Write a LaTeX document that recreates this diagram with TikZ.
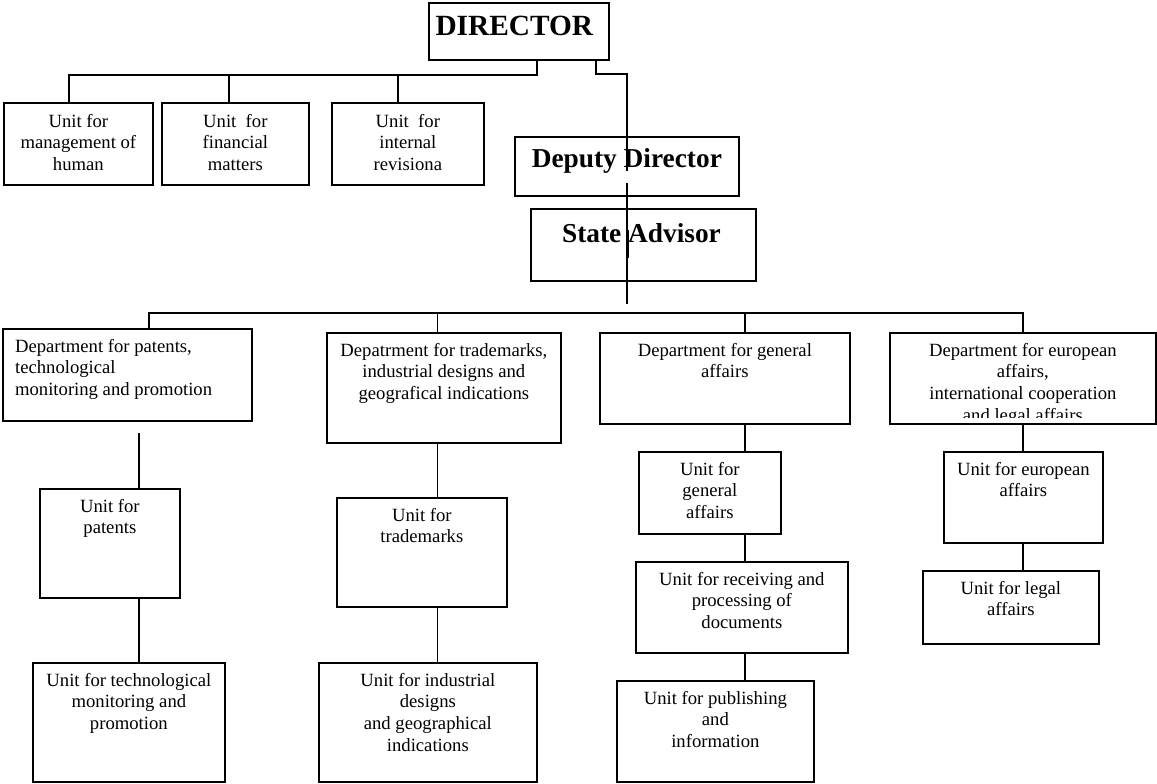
\documentclass[tikz,border=0pt]{standalone}
\usepackage{fontspec}
\setmainfont{Liberation Serif}
\usepackage{tikz}

\tikzset{
  box/.style 2 args={draw, line width=1.3pt, anchor=north west, inner sep=0pt,
    minimum width=#1*0.75pt, minimum height=#2*0.75pt},
  lbl/.style={font=\fontsize{14}{16.2}\selectfont, align=center, inner sep=0pt,
    anchor=north, yshift=-8.2pt},
  head/.style={font=\bfseries\fontsize{20.5}{24}\selectfont, inner sep=0pt, anchor=base},
  link/.style={line width=1pt},
}

\begin{document}
\begin{tikzpicture}[x=0.75pt, y=-0.75pt]
\useasboundingbox (0,0) rectangle (1157,783);

% top
\node[box={180}{57}, label={[head, font=\bfseries\fontsize{22}{26}\selectfont, yshift=-24.75pt, xshift=-3.4pt]north:DIRECTOR}] (dir) at (428,2) {};
\node[box={149}{82}, label={[lbl, yshift=-0.7pt]north:{Unit for\\management of\\human}}] (uhr) at (3,102) {};
\node[box={147}{82}, label={[lbl, yshift=-0.7pt]north:{Unit\ \ for\\financial\\matters}}] (ufin) at (161,102) {};
\node[box={152}{82}, label={[lbl, yshift=-0.7pt]north:{Unit\ \ for\\internal\\revisiona}}] (urev) at (331,102) {};
\node[box={224}{59}, label={[head, yshift=-23.25pt]north:Deputy Director}] (dep) at (514,136) {};
\node[box={225}{72}, label={[head, yshift=-25.5pt, xshift=-1.4pt]north:State Advisor}] (sta) at (530,208) {};

% departments
\node[box={249}{92}, label={[lbl, anchor=north west, align=left, xshift=-84.4pt]north:{Department for patents,\\technological\\monitoring and promotion}}] (d1) at (2,328) {};
\node[box={234}{110}, label={[lbl]north:{Depatrment for trademarks,\\industrial designs and\\geografical indications}}] (d2) at (326,332) {};
\node[box={250}{91}, label={[lbl]north:{Department for general\\affairs}}] (d3) at (599,332) {};
\node[box={266}{91}] (d4) at (889,332) {};
\begin{scope}
  \clip (d4.north west) rectangle (1155,417.5);
  \node[lbl] (t4) at (d4.north) {Department for european\\affairs,\\international cooperation\\and legal affairs};
\end{scope}

% units
\node[box={140}{109}, label={[lbl]north:{Unit for\\patents}}] (upat) at (39,488) {};
\node[box={192}{119}, label={[lbl]north:{Unit for technological\\monitoring and\\promotion}}] (utech) at (32,662) {};
\node[box={170}{109}, label={[lbl]north:{Unit for\\trademarks}}] (utm) at (336,497) {};
\node[box={218}{119}, label={[lbl]north:{Unit for industrial\\designs\\and geographical\\indications}}] (uind) at (318,662) {};
\node[box={142}{82}, label={[lbl]north:{Unit for\\general\\affairs}}] (ugen) at (638,451) {};
\node[box={212}{91}, label={[lbl]north:{Unit for receiving and\\processing of\\documents}}] (urec) at (635,561) {};
\node[box={197}{101}, label={[lbl]north:{Unit for publishing\\and\\information}}] (upub) at (616,680) {};
\node[box={159}{91}, label={[lbl]north:{Unit for european\\affairs}}] (ueu) at (943,451) {};
\node[box={176}{73}, label={[lbl]north:{Unit for legal\\affairs}}] (uleg) at (922,570) {};

% lines from the director
\coordinate (j1) at (537,75);
\coordinate (hr) at (69,75);
\coordinate (fin) at (229,75);
\coordinate (rev) at (398,75);
\draw[link] (dir.south -| j1) -- (j1) -- (hr) -- (hr |- uhr.north);
\draw[link] (fin) -- (fin |- ufin.north);
\draw[link] (rev) -- (rev |- urev.north);

\coordinate (k1) at (596,74);
\coordinate (k2) at (627,74);
\coordinate (k3) at (627,171);
\coordinate (k4) at (627,183);
\coordinate (k5) at (627,304);
\draw[link] (dir.south -| k1) -- (k1) -- (k2) -- (k3);
\draw[link] (k4) -- (k5);
\draw[line width=1.5pt] (628,230) -- (628,258);

% department bar
\coordinate (b1) at (149,313);
\coordinate (b2) at (437.5,313);
\coordinate (b3) at (745,313);
\coordinate (b4) at (1023,313);
\draw[link] (b1 |- d1.north) -- (b1) -- (b4) -- (b4 |- d4.north);
\draw[link] (b2) -- (b2 |- d2.north);
\draw[link] (b3) -- (b3 |- d3.north);

% units below the departments
\coordinate (c1) at (139,433);
\draw[link] (c1) -- (c1 |- upat.north);
\draw[link] (upat.south -| c1) -- (utech.north -| c1);
\draw[link] (d2.south -| b2) -- (utm.north -| b2);
\draw[link] (utm.south -| b2) -- (uind.north -| b2);
\draw[link] (d3.south -| b3) -- (ugen.north -| b3);
\draw[link] (ugen.south -| b3) -- (urec.north -| b3);
\draw[link] (urec.south -| b3) -- (upub.north -| b3);
\draw[link] (d4.south -| b4) -- (ueu.north -| b4);
\draw[link] (ueu.south -| b4) -- (uleg.north -| b4);
\end{tikzpicture}
\end{document}
